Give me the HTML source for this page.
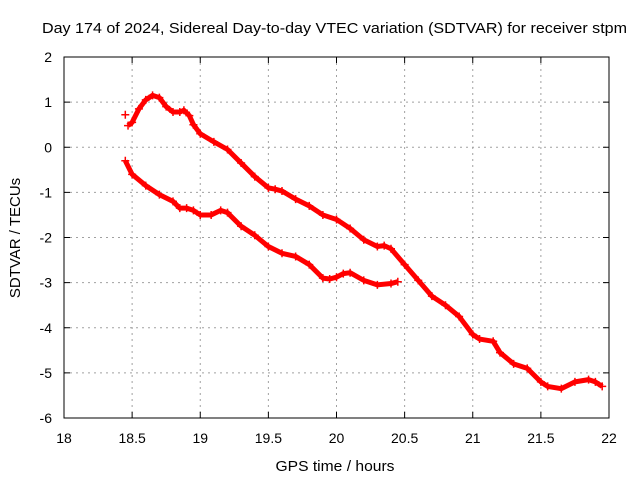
<!DOCTYPE html>
<html><head><meta charset="utf-8"><style>
body{margin:0;background:#fff;}
svg{display:block;font-family:"Liberation Sans",sans-serif;}
</style></head><body>
<svg id="chart" width="640" height="480">
<text x="42" y="33" font-size="15" textLength="585" lengthAdjust="spacingAndGlyphs">Day 174 of 2024, Sidereal Day-to-day VTEC variation (SDTVAR) for receiver stpm</text>
<text x="335" y="471" font-size="15" text-anchor="middle" textLength="119" lengthAdjust="spacingAndGlyphs">GPS time / hours</text>
<text transform="translate(20,238) rotate(-90)" font-size="15" text-anchor="middle">SDTVAR / TECUs</text>
<g id="grid"></g><g id="series"></g>
<rect x="64" y="57" width="545" height="361" fill="none" stroke="#000" stroke-width="1"/>
</svg>
<script>
const xTicks=[18,18.5,19,19.5,20,20.5,21,21.5,22];
const xTickLabels=["18","18.5","19","19.5","20","20.5","21","21.5","22"];
const yTicks=[2,1,0,-1,-2,-3,-4,-5,-6];
const yTickLabels=["2","1","0","-1","-2","-3","-4","-5","-6"];
const upperX=[18.45,18.47,18.5,18.55,18.6,18.65,18.7,18.75,18.8,18.85,18.88,18.92,18.95,19.0,19.1,19.2,19.3,19.4,19.5,19.55,19.6,19.7,19.8,19.9,20.0,20.1,20.2,20.3,20.35,20.4,20.5,20.6,20.7,20.8,20.9,21.0,21.05,21.15,21.2,21.3,21.4,21.5,21.55,21.65,21.75,21.85,21.9,21.95];
const upperY=[0.72,0.48,0.55,0.85,1.05,1.15,1.1,0.9,0.78,0.78,0.82,0.7,0.5,0.3,0.12,-0.05,-0.35,-0.65,-0.9,-0.93,-0.97,-1.15,-1.3,-1.5,-1.6,-1.8,-2.05,-2.2,-2.18,-2.25,-2.6,-2.95,-3.3,-3.5,-3.75,-4.15,-4.25,-4.3,-4.55,-4.8,-4.9,-5.2,-5.3,-5.35,-5.2,-5.15,-5.2,-5.3];
const lowerX=[18.45,18.5,18.6,18.7,18.8,18.85,18.9,18.95,19.0,19.08,19.15,19.2,19.3,19.4,19.5,19.6,19.7,19.8,19.9,19.95,20.0,20.05,20.1,20.2,20.3,20.4,20.45];
const lowerY=[-0.3,-0.6,-0.85,-1.05,-1.2,-1.35,-1.35,-1.4,-1.5,-1.5,-1.4,-1.45,-1.75,-1.95,-2.2,-2.35,-2.42,-2.6,-2.9,-2.92,-2.88,-2.8,-2.78,-2.95,-3.05,-3.02,-2.98];
const NS="http://www.w3.org/2000/svg";
const xs=v=>64+(v-18)*545/4, ys=v=>57+(2-v)*361/8;
const grid=document.getElementById('grid'), ser=document.getElementById('series');
function mk(t,a,p){const e=document.createElementNS(NS,t);for(const k in a)e.setAttribute(k,a[k]);p.appendChild(e);return e;}
xTicks.forEach((v,i)=>{const x=xs(v);
 if(i>0&&i<xTicks.length-1){const g=mk('line',{x1:x,x2:x,y1:57,y2:418,stroke:'#a0a0a0','stroke-dasharray':'2,4'},grid);
 
 }
 mk('line',{x1:x,x2:x,y1:418,y2:412,stroke:'#000'},grid);mk('line',{x1:x,x2:x,y1:57,y2:63,stroke:'#000'},grid);
 const t=mk('text',{x:x,y:443,'font-size':14,'text-anchor':'middle'},grid);t.textContent=xTickLabels[i];
 
 });
yTicks.forEach((v,i)=>{const y=ys(v);
 if(i>0&&i<yTicks.length-1){const g=mk('line',{x1:64,x2:609,y1:y,y2:y,stroke:'#a0a0a0','stroke-dasharray':'2,4'},grid);
 
 }
 mk('line',{x1:64,x2:70,y1:y,y2:y,stroke:'#000'},grid);mk('line',{x1:603,x2:609,y1:y,y2:y,stroke:'#000'},grid);
 const t=mk('text',{x:52,y:y+5,'font-size':14,'text-anchor':'end'},grid);t.textContent=yTickLabels[i];
 
 });
function series(X,Y,name,skipFirst){
 const pts=X.map((x,i)=>xs(x)+','+ys(Y[i])).slice(skipFirst?1:0).join(' ');
 const pl=mk('polyline',{points:pts,fill:'none',stroke:'#f00','stroke-width':5,'stroke-linejoin':'round'},ser);
 
 
 X.forEach((x,i)=>{const cx=xs(x),cy=ys(Y[i]);
  const p=mk('path',{d:`M${cx-4},${cy}H${cx+4}M${cx},${cy-4}V${cy+4}`,stroke:'#f00','stroke-width':1.5},ser);
  
  });
}
series(upperX,upperY,'upper-series',true);
series(lowerX,lowerY,'lower-series',false);
</script>
</body></html>
